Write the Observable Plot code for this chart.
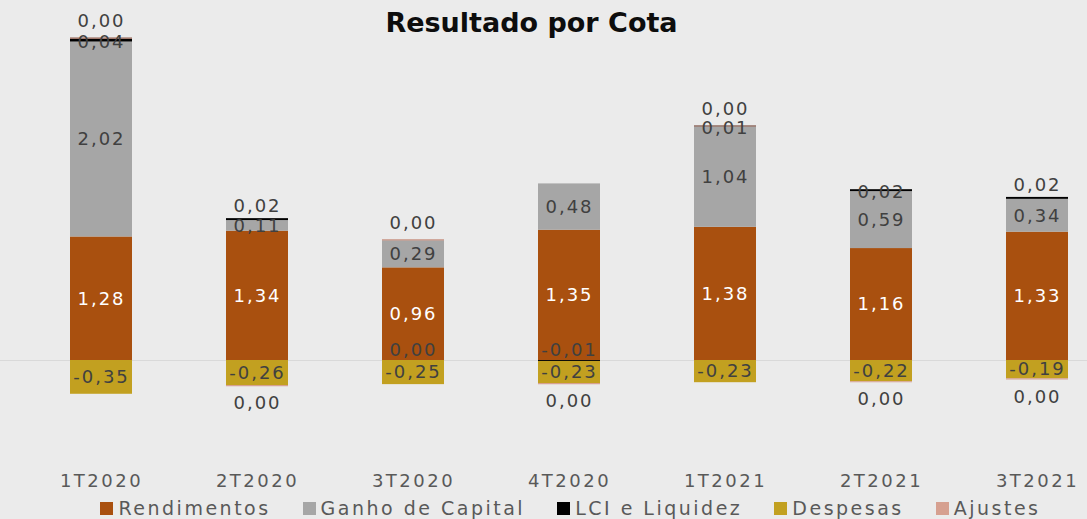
<!DOCTYPE html>
<html>
<head>
<meta charset="utf-8">
<script src="https://cdn.jsdelivr.net/npm/d3@7"></script>
<script src="https://cdn.jsdelivr.net/npm/@observablehq/plot@0.6"></script>
<style>
  html, body { margin: 0; padding: 0; background: #ebebeb; }
  #wrap { position: relative; width: 1087px; height: 519px; overflow: hidden; font-family: "DejaVu Sans", sans-serif; }
  #title { position: absolute; top: 9px; left: 0; width: 1087px; padding-right: 24px; box-sizing: border-box; text-align: center; font-weight: bold; font-size: 27px; line-height: 27px; color: #0d0d0d; }
  #chart { position: absolute; top: 0; left: 0; }
  #chart text { letter-spacing: 2px; }
  #chart g[aria-label="x-axis tick label"] text { letter-spacing: 2.5px; }
  #legend { position: absolute; top: 498px; left: 0; width: 1087px; padding-left: 54px; box-sizing: border-box; display: flex; justify-content: center; gap: 32px; font-size: 19px; line-height: 20px; color: #595959; letter-spacing: 2.5px; }
  .item { display: flex; align-items: center; gap: 5px; white-space: nowrap; }
  .sw { width: 13px; height: 13px; display: inline-block; }
</style>
</head>
<body>
<div id="wrap">
  <div id="chart"></div>
  <div id="title">Resultado por Cota</div>
  <div id="legend"></div>
</div>
<script>
const categories = ["1T2020", "2T2020", "3T2020", "4T2020", "1T2021", "2T2021", "3T2021"];
const seriesNames = ["Rendimentos", "Ganho de Capital", "LCI e Liquidez", "Despesas", "Ajustes"];
const rendimentos = [1.28, 1.34, 0.96, 1.35, 1.38, 1.16, 1.33];
const ganhoCapital = [2.02, 0.11, 0.29, 0.48, 1.04, 0.59, 0.34];
const lciLiquidez = [0.04, 0.02, -0, -0.01, 0.01, 0.02, 0.02];
const despesas = [-0.35, -0.26, -0.25, -0.23, -0.23, -0.22, -0.19];
const ajustes = [0, -0, 0, -0, 0, -0, -0];
const seriesColors = ["#a9500f", "#a6a6a6", "#000000", "#c2a020", "#d6a090"];

const seriesValues = [rendimentos, ganhoCapital, lciLiquidez, despesas, ajustes];
const isNeg = v => v < 0 || Object.is(v, -0);
const fmt = v => (Object.is(v, -0) ? 0 : v).toFixed(2).replace(".", ",").replace(/^-0,00$/, "0,00");

const rows = [];
categories.forEach((c, i) => {
  let pos = 0, neg = 0;
  seriesNames.forEach((s, k) => {
    const v = seriesValues[k][i];
    const n = isNeg(v);
    let y1, y2;
    if (n) { y1 = neg; y2 = neg + v; neg = y2; } else { y1 = pos; y2 = pos + v; pos = y2; }
    rows.push({cat: c, series: s, value: v, y1, y2, neg: n, gain: ganhoCapital[i]});
  });
});
const main = rows.filter(r => r.series !== "Ajustes" && r.series !== "LCI e Liquidez");
const lci = rows.filter(r => r.series === "LCI e Liquidez");
const adj = rows.filter(r => r.series === "Ajustes");
const mid = r => (r.y1 + r.y2) / 2;

const chart = Plot.plot({
  width: 1087,
  height: 495,
  marginLeft: 0,
  marginRight: 0,
  marginTop: 22.25,
  marginBottom: 38.5,
  style: {background: "transparent", fontFamily: "DejaVu Sans, sans-serif", overflow: "visible"},
  x: {domain: categories, range: [20.7, 1117.4], paddingInner: 0.604, paddingOuter: 0.302, label: null},
  y: {domain: [-1, 3.5], axis: null},
  color: {domain: seriesNames, range: seriesColors},
  marks: [
    Plot.ruleY([0], {stroke: "#d9d9d9", strokeWidth: 1.2}),
    Plot.barY(rows.filter(r => r.series !== "Ajustes"), {x: "cat", y1: "y1", y2: "y2", fill: "series"}),
    Plot.tickY(adj, {x: "cat", y: "y2", stroke: "series", strokeWidth: 1.2}),
    Plot.text(main.filter(r => r.series === "Rendimentos"), {x: "cat", y: mid, text: r => fmt(r.value), fill: "white", fontSize: 18}),
    Plot.text(main.filter(r => r.series !== "Rendimentos"), {x: "cat", y: mid, text: r => fmt(r.value), fill: "#404040", fontSize: 18}),
    // LCI labels: centred on a tall grey block, lifted above a short one, above zero when negative
    Plot.text(lci.filter(r => !r.neg && r.gain >= 0.4), {x: "cat", y: mid, text: r => fmt(r.value), fill: "#404040", fontSize: 18, dy: 2}),
    Plot.text(lci.filter(r => !r.neg && r.gain < 0.4), {x: "cat", y: "y2", text: r => fmt(r.value), fill: "#404040", fontSize: 18, dy: -12}),
    Plot.text(lci.filter(r => r.neg), {x: "cat", y: "y1", text: r => fmt(r.value), fill: "#404040", fontSize: 18, dy: -10}),
    Plot.text(adj.filter(r => !r.neg), {x: "cat", y: "y2", text: r => fmt(r.value), fill: "#404040", fontSize: 18, dy: -17}),
    Plot.text(adj.filter(r => r.neg), {x: "cat", y: "y2", text: r => fmt(r.value), fill: "#404040", fontSize: 18, dy: 18}),
    Plot.axisX({tickSize: 0, tickPadding: 24, lineAnchor: "middle", fontSize: 18, fill: "#595959", label: null})
  ]
});
document.getElementById("chart").appendChild(chart);

const legend = document.getElementById("legend");
seriesNames.forEach((s, k) => {
  const it = document.createElement("div");
  it.className = "item";
  const sw = document.createElement("span");
  sw.className = "sw";
  sw.style.background = seriesColors[k];
  const t = document.createElement("span");
  t.textContent = s;
  it.appendChild(sw);
  it.appendChild(t);
  legend.appendChild(it);
});
</script>
</body>
</html>
